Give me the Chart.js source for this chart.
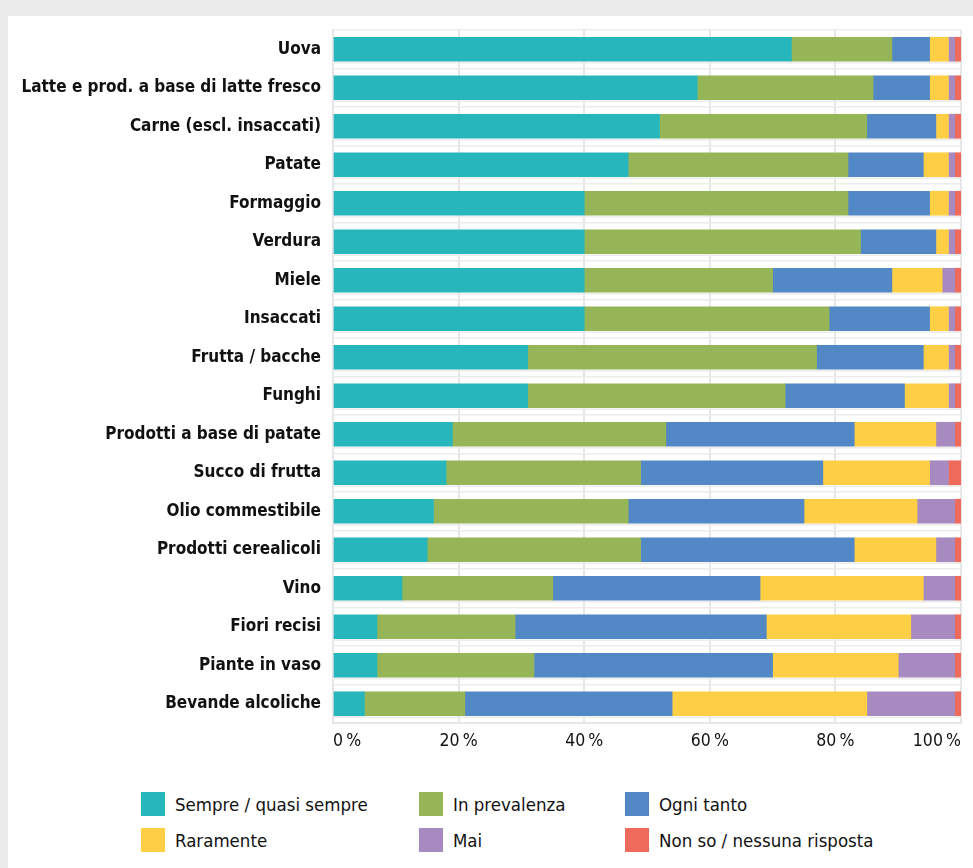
<!DOCTYPE html>
<html lang="it">
<head>
<meta charset="utf-8">
<script src="https://cdn.jsdelivr.net/npm/chart.js@4.4.1/dist/chart.umd.min.js"></script>
<style>
  html, body { margin: 0; padding: 0; background: #ebebeb; }
  body { width: 973px; height: 868px; position: relative; overflow: hidden; }
  .panel { position: absolute; left: 8px; top: 16px; right: 0; bottom: 0; background: #fff; }
  .chart-box { position: absolute; left: 0; top: 0; width: 973px; height: 760px; }
  .legend {
    position: absolute; left: 141px; top: 792px;
    display: grid; grid-template-columns: 278px 206px 300px; row-gap: 12px;
    font-family: "DejaVu Sans Condensed", "DejaVu Sans", sans-serif; font-size: 18.5px; color: #111;
  }
  .legend-item { display: flex; align-items: center; height: 24px; white-space: nowrap; }
  .legend-swatch { width: 24px; height: 24px; margin-right: 10px; flex: none; }
</style>
</head>
<body>
<div class="panel"></div>
<div class="chart-box"><canvas id="chart"></canvas></div>
<div class="legend" id="legend"></div>

<script>
const categories = [
  'Uova',
  'Latte e prod. a base di latte fresco',
  'Carne (escl. insaccati)',
  'Patate',
  'Formaggio',
  'Verdura',
  'Miele',
  'Insaccati',
  'Frutta / bacche',
  'Funghi',
  'Prodotti a base di patate',
  'Succo di frutta',
  'Olio commestibile',
  'Prodotti cerealicoli',
  'Vino',
  'Fiori recisi',
  'Piante in vaso',
  'Bevande alcoliche'
];

// quote in % per categoria
const sempre      = [73, 58, 52, 47, 40, 40, 40, 40, 31, 31, 19, 18, 16, 15, 11,  7,  7,  5];
const prevalenza  = [16, 28, 33, 35, 42, 44, 30, 39, 46, 41, 34, 31, 31, 34, 24, 22, 25, 16];
const ogniTanto   = [ 6,  9, 11, 12, 13, 12, 19, 16, 17, 19, 30, 29, 28, 34, 33, 40, 38, 33];
const raramente   = [ 3,  3,  2,  4,  3,  2,  8,  3,  4,  7, 13, 17, 18, 13, 26, 23, 20, 31];
const mai         = [ 1,  1,  1,  1,  1,  1,  2,  1,  1,  1,  3,  3,  6,  3,  5,  7,  9, 14];
const nonSo       = [ 1,  1,  1,  1,  1,  1,  1,  1,  1,  1,  1,  2,  1,  1,  1,  1,  1,  1];

const xTicks = ['0\u2009%', '20\u2009%', '40\u2009%', '60\u2009%', '80\u2009%', '100\u2009%'];

const series = [
  { label: 'Sempre / quasi sempre',     data: sempre,     color: '#27b6bb' },
  { label: 'In prevalenza',             data: prevalenza, color: '#96b556' },
  { label: 'Ogni tanto',                data: ogniTanto,  color: '#5388c6' },
  { label: 'Raramente',                 data: raramente,  color: '#fecf44' },
  { label: 'Mai',                       data: mai,        color: '#a78bc0' },
  { label: 'Non so / nessuna risposta', data: nonSo,      color: '#ee6b5b' }
];

const FONT = '"DejaVu Sans Condensed", "DejaVu Sans", sans-serif';

// riga sottile sotto ogni barra
const rowLines = {
  id: 'rowLines',
  beforeDatasetsDraw(chart) {
    const meta = chart.getDatasetMeta(0);
    const area = chart.chartArea;
    const ctx = chart.ctx;
    ctx.save();
    ctx.strokeStyle = '#ececec';
    ctx.lineWidth = 1.5;
    meta.data.forEach(bar => {
      const y = bar.y + bar.height / 2 + 1.5;
      ctx.beginPath();
      ctx.moveTo(area.left, y);
      ctx.lineTo(area.right, y);
      ctx.stroke();
    });
    ctx.restore();
  }
};

new Chart(document.getElementById('chart'), {
  type: 'bar',
  data: {
    labels: categories,
    datasets: series.map(s => ({
      label: s.label,
      data: s.data,
      backgroundColor: s.color,
      borderWidth: 0,
      barThickness: 24
    }))
  },
  options: {
    indexAxis: 'y',
    responsive: true,
    maintainAspectRatio: false,
    animation: false,
    layout: { padding: { top: 30, right: 12, left: 0, bottom: 0 } },
    plugins: {
      legend: { display: false },
      tooltip: { enabled: false }
    },
    scales: {
      x: {
        stacked: true,
        min: 0,
        max: 100,
        afterFit: scale => { scale.height = 37; },
        afterBuildTicks: scale => {
          scale.ticks = [0, 20, 40, 60, 80, 100].map(v => ({ value: v }));
        },
        grid: { color: '#e6e6e6', lineWidth: 2, drawTicks: false },
        border: { color: '#e6e6e6', width: 2 },
        ticks: {
          align: 'inner',
          padding: 8,
          color: '#111',
          font: { family: FONT, size: 17.5 },
          callback: (v, i) => xTicks[i]
        }
      },
      y: {
        stacked: true,
        afterFit: scale => { scale.width = 333; },
        grid: { offset: true, color: '#ececec', lineWidth: 1.5, drawTicks: false },
        border: { color: '#e6e6e6', width: 2 },
        ticks: {
          padding: 12,
          color: '#111',
          font: { family: FONT, size: 17, weight: 'bold' }
        }
      }
    }
  },
  plugins: [rowLines]
});

const legendEl = document.getElementById('legend');
// tre voci per riga
series.forEach(s => {
  const item = document.createElement('div');
  item.className = 'legend-item';
  item.innerHTML = `<span class="legend-swatch" style="background:${s.color}"></span><span>${s.label}</span>`;
  legendEl.appendChild(item);
});
</script>
</body>
</html>
